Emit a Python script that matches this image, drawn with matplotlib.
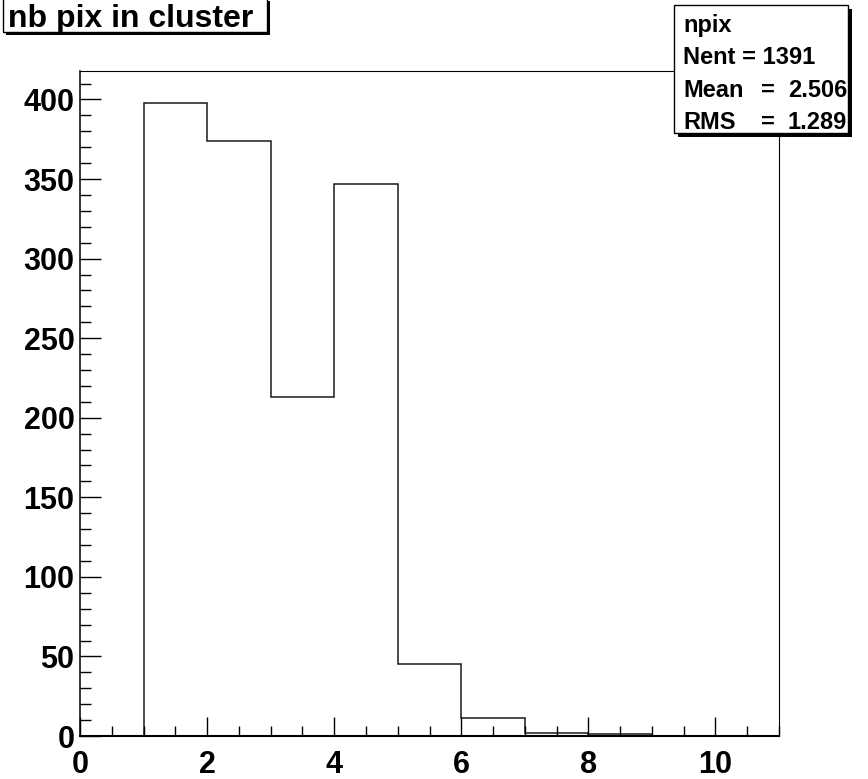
import matplotlib
matplotlib.use("Agg")
import matplotlib.pyplot as plt
from matplotlib.patches import Rectangle
from matplotlib.ticker import MultipleLocator
from matplotlib import font_manager as fm
import numpy as np

# ---- data ----
bin_edges = [0, 1, 2, 3, 4, 5, 6, 7, 8, 9, 10, 11]
counts = [0, 398, 374, 213, 347, 45, 11, 2, 1, 0, 0]
title = "nb pix in cluster"
stats_name = "npix"
stats_entries = "Nent = 1391"
stats_labels = ["Mean", "RMS"]
stats_values = ["2.506", "1.289"]

W, H = 868, 779
DPI = 100

# find regular-width Liberation Sans Bold (not Narrow)
bold_file = None
for f in fm.fontManager.ttflist:
    if f.name == "Liberation Sans" and "Narrow" not in f.fname and f.weight in (700, "bold") \
            and f.style == "normal":
        bold_file = f.fname
        break
if bold_file is None:
    for f in fm.fontManager.ttflist:
        if "LiberationSans-Bold.ttf" in f.fname:
            bold_file = f.fname
            break


def fp(size):
    if bold_file:
        return fm.FontProperties(fname=bold_file, size=size)
    return fm.FontProperties(family="DejaVu Sans", weight="bold", size=size)


fig = plt.figure(figsize=(W / DPI, H / DPI), dpi=DPI)
fig.patch.set_facecolor("white")


def fx(px):
    return px / W


def fy(py):
    return 1 - py / H


# axes frame in pixels
L, R, T, B = 80, 779, 71, 736
ax = fig.add_axes([fx(L), fy(B), fx(R - L), (B - T) / H])

ax.stairs(counts, bin_edges, color="#1a1a1a", linewidth=1.1, baseline=None)

ax.set_xlim(0, 11)
ax.set_ylim(0, 1.05 * max(counts))

ax.xaxis.set_major_locator(MultipleLocator(2))
ax.xaxis.set_minor_locator(MultipleLocator(0.5))
ax.yaxis.set_major_locator(MultipleLocator(50))
ax.yaxis.set_minor_locator(MultipleLocator(10))

ax.tick_params(axis="x", which="major", direction="in", length=14, width=1,
               bottom=True, top=False, pad=10)
ax.tick_params(axis="x", which="minor", direction="in", length=7, width=1,
               bottom=True, top=False)
ax.tick_params(axis="y", which="major", direction="in", length=15, width=1,
               left=True, right=False, pad=4)
ax.tick_params(axis="y", which="minor", direction="in", length=8, width=1,
               left=True, right=False)
for lab in ax.get_xticklabels() + ax.get_yticklabels():
    lab.set_fontproperties(fp(22))

for side in ["top", "right"]:
    ax.spines[side].set_linewidth(0.8)
ax.spines["left"].set_linewidth(1.1)
ax.spines["bottom"].set_linewidth(1.5)


def shadow_box(x0, y0, x1, y1, off):
    fig.add_artist(Rectangle((fx(x0 + off), fy(y1 + off)), fx(x1 - x0), (y1 - y0) / H,
                             transform=fig.transFigure, facecolor="black",
                             edgecolor="black", linewidth=0, zorder=5))
    fig.add_artist(Rectangle((fx(x0), fy(y1)), fx(x1 - x0), (y1 - y0) / H,
                             transform=fig.transFigure, facecolor="white",
                             edgecolor="black", linewidth=1.0, zorder=6))


# title box
shadow_box(3, -2, 267, 32, 3)
fig.text(fx(8), fy(27), title, fontproperties=fp(23),
         ha="left", va="baseline", zorder=7)

# stats box
shadow_box(674, 5, 848, 133, 4)
sfs = 17
fig.text(fx(683), fy(32), stats_name, fontproperties=fp(sfs),
         ha="left", va="baseline", zorder=7)
fig.text(fx(683), fy(64), stats_entries, fontproperties=fp(sfs),
         ha="left", va="baseline", zorder=7)
for i, (lab, val) in enumerate(zip(stats_labels, stats_values)):
    yb = 97 + 32 * i
    fig.text(fx(683), fy(yb), lab, fontproperties=fp(sfs),
             ha="left", va="baseline", zorder=7)
    fig.text(fx(768), fy(yb), "=", fontproperties=fp(sfs),
             ha="center", va="baseline", zorder=7)
    fig.text(fx(847), fy(yb), val, fontproperties=fp(sfs),
             ha="right", va="baseline", zorder=7)

fig.savefig("out.png", dpi=DPI, facecolor="white")
